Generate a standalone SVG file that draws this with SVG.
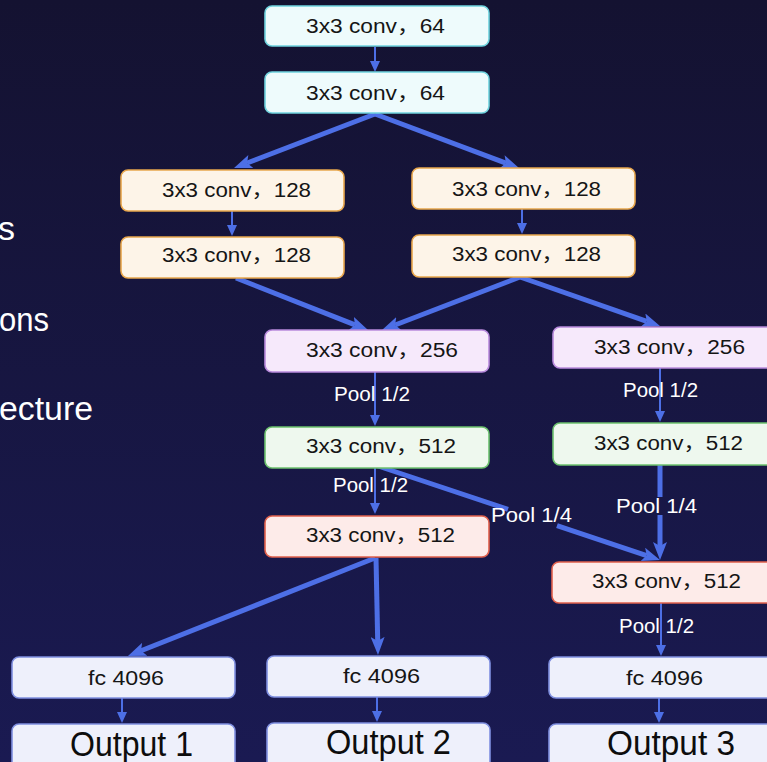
<svg xmlns="http://www.w3.org/2000/svg" width="767" height="762" viewBox="0 0 767 762">
  <defs>
    <linearGradient id="bg" x1="0" y1="0" x2="0" y2="1">
      <stop offset="0" stop-color="#141231"/>
      <stop offset="1" stop-color="#1a1a52"/>
    </linearGradient>
    <!-- large arrowhead for the thick links; refX at the notch so the tip runs 14px past the line end -->
    <marker id="headBig" markerUnits="userSpaceOnUse" markerWidth="18" markerHeight="14" viewBox="0 0 18 14" refX="4" refY="7" orient="auto">
      <path d="M0,0 L18,7 L0,14 L4,7 z" fill="#4d6fe6"/>
    </marker>
    <!-- small arrowhead for the thin links -->
    <marker id="headSmall" markerUnits="userSpaceOnUse" markerWidth="11" markerHeight="10" viewBox="0 0 11 10" refX="9" refY="5" orient="auto">
      <path d="M0,0 L11,5 L0,10 z" fill="#4d6fe6"/>
    </marker>
  </defs>
  <style>
    .box { stroke-width: 1.6; }
    .cyan { fill: #eefbfc; stroke: #6fd3de; }
    .orange { fill: #fdf4e8; stroke: #e8a64c; }
    .purple { fill: #f6e9fb; stroke: #b98add; }
    .green { fill: #eef8ee; stroke: #6cc16e; }
    .red { fill: #fdebe9; stroke: #e0604c; }
    .fc { fill: #eef0fb; stroke: #7f8fe0; }
    .lbl { font-family: "Liberation Sans", "Noto Sans CJK SC", sans-serif; font-size: 20px; fill: #151515; }
    .out { font-family: "Liberation Sans", sans-serif; font-size: 35px; fill: #0d0d0d; }
    .pool { font-family: "Liberation Sans", sans-serif; font-size: 19.5px; fill: #ffffff; }
    .side { font-family: "Liberation Sans", sans-serif; font-size: 34px; fill: #ffffff; }
    .thick { stroke: #4d6fe6; stroke-width: 5; fill: none; }
    .thin { stroke: #4d6fe6; stroke-width: 2; fill: none; }
  </style>

  <rect x="0" y="0" width="767" height="762" fill="url(#bg)"/>

  <!-- slide text running in from the left edge -->
  <g id="side-text">
    <text class="side" x="-2" y="240">s</text>
    <text class="side" x="-1" y="331" textLength="50" lengthAdjust="spacingAndGlyphs">ons</text>
    <text class="side" x="-1" y="420" textLength="94" lengthAdjust="spacingAndGlyphs">ecture</text>
  </g>

  <!-- links -->
  <g id="connectors">
    <line class="thin" x1="375" y1="47" x2="375" y2="70" marker-end="url(#headSmall)"/>
    <line class="thick" x1="375" y1="114" x2="247.1" y2="163" marker-end="url(#headBig)"/>
    <line class="thick" x1="375" y1="114" x2="505.9" y2="163.1" marker-end="url(#headBig)"/>
    <line class="thin" x1="232" y1="211" x2="232" y2="234" marker-end="url(#headSmall)"/>
    <line class="thin" x1="522" y1="209" x2="522" y2="232" marker-end="url(#headSmall)"/>
    <line class="thick" x1="236" y1="278" x2="355" y2="324.9" marker-end="url(#headBig)"/>
    <line class="thick" x1="520" y1="277" x2="395.1" y2="325" marker-end="url(#headBig)"/>
    <line class="thick" x1="520" y1="277" x2="646.8" y2="321.4" marker-end="url(#headBig)"/>
    <line class="thin" x1="375" y1="372" x2="375" y2="424" marker-end="url(#headSmall)"/>
    <line class="thin" x1="660" y1="368" x2="660" y2="420" marker-end="url(#headSmall)"/>
    <line class="thin" x1="375" y1="468" x2="375" y2="512" marker-end="url(#headSmall)"/>
    <line class="thick" x1="378" y1="466" x2="508" y2="509.3"/>
    <line class="thick" x1="557" y1="525.7" x2="646.7" y2="555.6" marker-end="url(#headBig)"/>
    <line class="thick" x1="660" y1="465" x2="660" y2="497"/>
    <line class="thick" x1="660" y1="515" x2="660" y2="546" marker-end="url(#headBig)"/>
    <line class="thick" x1="375" y1="558" x2="141" y2="650.8" marker-end="url(#headBig)"/>
    <line class="thick" x1="376" y1="558" x2="377.7" y2="641" marker-end="url(#headBig)"/>
    <line class="thin" x1="661" y1="603" x2="661" y2="654" marker-end="url(#headSmall)"/>
    <line class="thin" x1="122" y1="698" x2="122" y2="721" marker-end="url(#headSmall)"/>
    <line class="thin" x1="377" y1="697" x2="377" y2="720" marker-end="url(#headSmall)"/>
    <line class="thin" x1="659" y1="698" x2="659" y2="721" marker-end="url(#headSmall)"/>
    <text class="pool" x="334" y="401" textLength="76" lengthAdjust="spacingAndGlyphs">Pool 1/2</text>
    <text class="pool" x="623" y="397" textLength="75" lengthAdjust="spacingAndGlyphs">Pool 1/2</text>
    <text class="pool" x="333" y="492" textLength="75" lengthAdjust="spacingAndGlyphs">Pool 1/2</text>
    <text class="pool" x="491" y="521.5" textLength="81" lengthAdjust="spacingAndGlyphs">Pool 1/4</text>
    <text class="pool" x="616" y="513" textLength="81" lengthAdjust="spacingAndGlyphs">Pool 1/4</text>
    <text class="pool" x="619" y="633" textLength="75" lengthAdjust="spacingAndGlyphs">Pool 1/2</text>
  </g>

  <g id="conv64-a">
    <rect class="box cyan" x="265" y="6" width="224" height="40" rx="7"/>
    <text class="lbl" x="306" y="33" textLength="139" lengthAdjust="spacingAndGlyphs">3x3 conv，64</text>
  </g>
  <g id="conv64-b">
    <rect class="box cyan" x="265" y="72" width="224" height="41" rx="7"/>
    <text class="lbl" x="306" y="100" textLength="139" lengthAdjust="spacingAndGlyphs">3x3 conv，64</text>
  </g>
  <g id="conv128-l1">
    <rect class="box orange" x="121" y="170" width="223" height="41" rx="7"/>
    <text class="lbl" x="162" y="197" textLength="149" lengthAdjust="spacingAndGlyphs">3x3 conv，128</text>
  </g>
  <g id="conv128-l2">
    <rect class="box orange" x="121" y="237" width="223" height="41" rx="7"/>
    <text class="lbl" x="162" y="262" textLength="149" lengthAdjust="spacingAndGlyphs">3x3 conv，128</text>
  </g>
  <g id="conv128-r1">
    <rect class="box orange" x="412" y="168" width="223" height="41" rx="7"/>
    <text class="lbl" x="452" y="196" textLength="149" lengthAdjust="spacingAndGlyphs">3x3 conv，128</text>
  </g>
  <g id="conv128-r2">
    <rect class="box orange" x="412" y="235" width="223" height="42" rx="7"/>
    <text class="lbl" x="452" y="261" textLength="149" lengthAdjust="spacingAndGlyphs">3x3 conv，128</text>
  </g>
  <g id="conv256-c">
    <rect class="box purple" x="265" y="330" width="224" height="42" rx="7"/>
    <text class="lbl" x="306" y="357" textLength="152" lengthAdjust="spacingAndGlyphs">3x3 conv，256</text>
  </g>
  <g id="conv256-r">
    <rect class="box purple" x="553" y="327" width="226" height="41" rx="7"/>
    <text class="lbl" x="594" y="354" textLength="151" lengthAdjust="spacingAndGlyphs">3x3 conv，256</text>
  </g>
  <g id="conv512-c1">
    <rect class="box green" x="265" y="427" width="224" height="41" rx="7"/>
    <text class="lbl" x="306" y="453" textLength="150" lengthAdjust="spacingAndGlyphs">3x3 conv，512</text>
  </g>
  <g id="conv512-r1">
    <rect class="box green" x="553" y="423" width="226" height="42" rx="7"/>
    <text class="lbl" x="594" y="450" textLength="149" lengthAdjust="spacingAndGlyphs">3x3 conv，512</text>
  </g>
  <g id="conv512-c2">
    <rect class="box red" x="265" y="516" width="224" height="41" rx="7"/>
    <text class="lbl" x="306" y="542" textLength="149" lengthAdjust="spacingAndGlyphs">3x3 conv，512</text>
  </g>
  <g id="conv512-r2">
    <rect class="box red" x="552" y="562" width="228" height="41" rx="7"/>
    <text class="lbl" x="592" y="588" textLength="149" lengthAdjust="spacingAndGlyphs">3x3 conv，512</text>
  </g>
  <g id="fc-1">
    <rect class="box fc" x="12" y="657" width="223" height="41" rx="7"/>
    <text class="lbl" x="88" y="685" textLength="76" lengthAdjust="spacingAndGlyphs">fc 4096</text>
  </g>
  <g id="fc-2">
    <rect class="box fc" x="267" y="656" width="223" height="41" rx="7"/>
    <text class="lbl" x="343" y="683" textLength="77" lengthAdjust="spacingAndGlyphs">fc 4096</text>
  </g>
  <g id="fc-3">
    <rect class="box fc" x="549" y="657" width="228" height="41" rx="7"/>
    <text class="lbl" x="626" y="685" textLength="77" lengthAdjust="spacingAndGlyphs">fc 4096</text>
  </g>
  <g id="output-1">
    <rect class="box fc" x="12" y="724" width="223" height="50" rx="7"/>
    <text class="out" x="70" y="756" textLength="123" lengthAdjust="spacingAndGlyphs">Output 1</text>
  </g>
  <g id="output-2">
    <rect class="box fc" x="267" y="723" width="223" height="50" rx="7"/>
    <text class="out" x="326" y="754" textLength="125" lengthAdjust="spacingAndGlyphs">Output 2</text>
  </g>
  <g id="output-3">
    <rect class="box fc" x="549" y="724" width="228" height="50" rx="7"/>
    <text class="out" x="607" y="755" textLength="128" lengthAdjust="spacingAndGlyphs">Output 3</text>
  </g>
</svg>
